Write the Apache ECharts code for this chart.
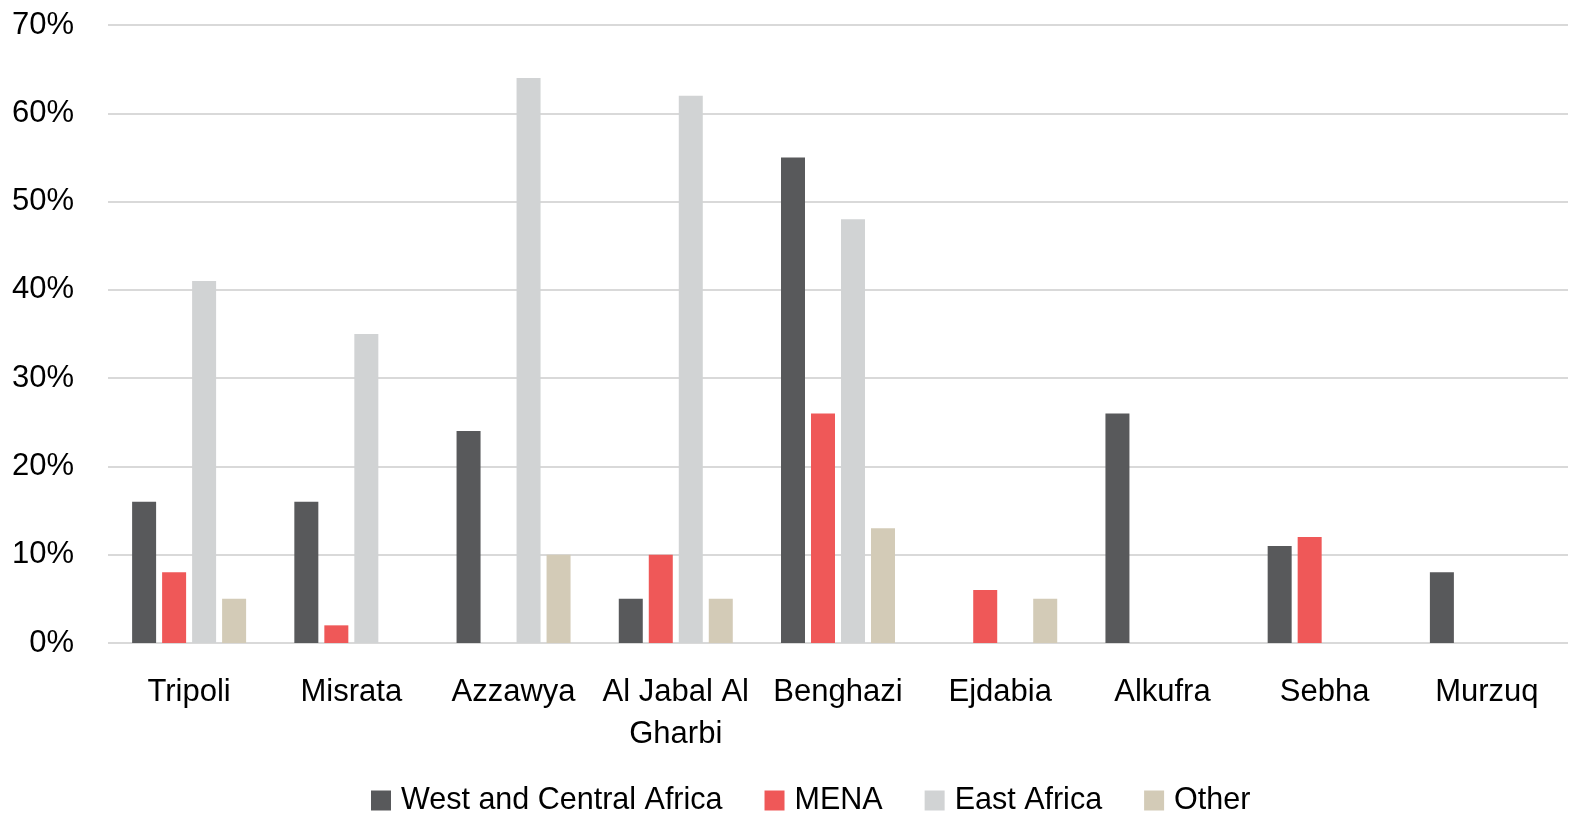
<!DOCTYPE html>
<html>
<head>
<meta charset="utf-8">
<style>
  html, body { margin: 0; padding: 0; background: #fff; }
  #chart { width: 1571px; height: 815px; }
</style>
<script src="https://cdn.jsdelivr.net/npm/echarts@6/dist/echarts.min.js"></script>
</head>
<body>
<div id="chart"></div>
<script>
// Share of migrants by region of origin, per Libyan municipality (%)
const categories = ['Tripoli', 'Misrata', 'Azzawya', 'Al Jabal Al\nGharbi', 'Benghazi', 'Ejdabia', 'Alkufra', 'Sebha', 'Murzuq'];
const westCentralAfrica = [16, 16, 24, 5, 55, 0, 26, 11, 8];
const mena = [8, 2, 0, 10, 26, 6, 0, 12, 0];
const eastAfrica = [41, 35, 64, 62, 48, 0, 0, 0, 0];
const other = [5, 0, 10, 5, 13, 5, 0, 0, 0];
const seriesNames = ['West and Central Africa', 'MENA', 'East Africa', 'Other'];
const seriesColors = ['#58595B', '#EF5858', '#D1D3D4', '#D3CBB7'];

const FONT = '"Liberation Sans Narrow", "Arial Narrow", "Liberation Sans", Arial, sans-serif';

const chart = echarts.init(document.getElementById('chart'));
const seriesData = [westCentralAfrica, mena, eastAfrica, other];

chart.setOption({
  animation: false,
  color: seriesColors,
  grid: { left: 108, right: 3, top: 25, bottom: 172, containLabel: false },
  legend: {
    left: 366,
    top: 780,
    itemWidth: 20,
    itemHeight: 20,
    itemGap: 42,
    icon: 'rect',
    textStyle: { fontFamily: FONT, fontSize: 30.5, color: '#000', padding: [0, 0, 0, 5] },
    data: seriesNames
  },
  xAxis: {
    type: 'category',
    data: categories,
    axisLine: { show: false },
    axisTick: { show: false },
    axisLabel: {
      interval: 0,
      margin: 28,
      fontFamily: FONT,
      fontSize: 31,
      lineHeight: 42,
      color: '#000'
    }
  },
  yAxis: {
    type: 'value',
    min: 0,
    max: 70,
    interval: 10,
    axisLine: { show: false },
    axisTick: { show: false },
    axisLabel: {
      formatter: '{value}%',
      margin: 34,
      fontFamily: FONT,
      fontSize: 31,
      color: '#000'
    },
    splitLine: { lineStyle: { color: '#D9D9D9', width: 2 } }
  },
  series: seriesNames.map((name, i) => ({
    name,
    type: 'bar',
    data: seriesData[i],
    barWidth: 24,
    barGap: '25%'
  }))
});
</script>
</body>
</html>
